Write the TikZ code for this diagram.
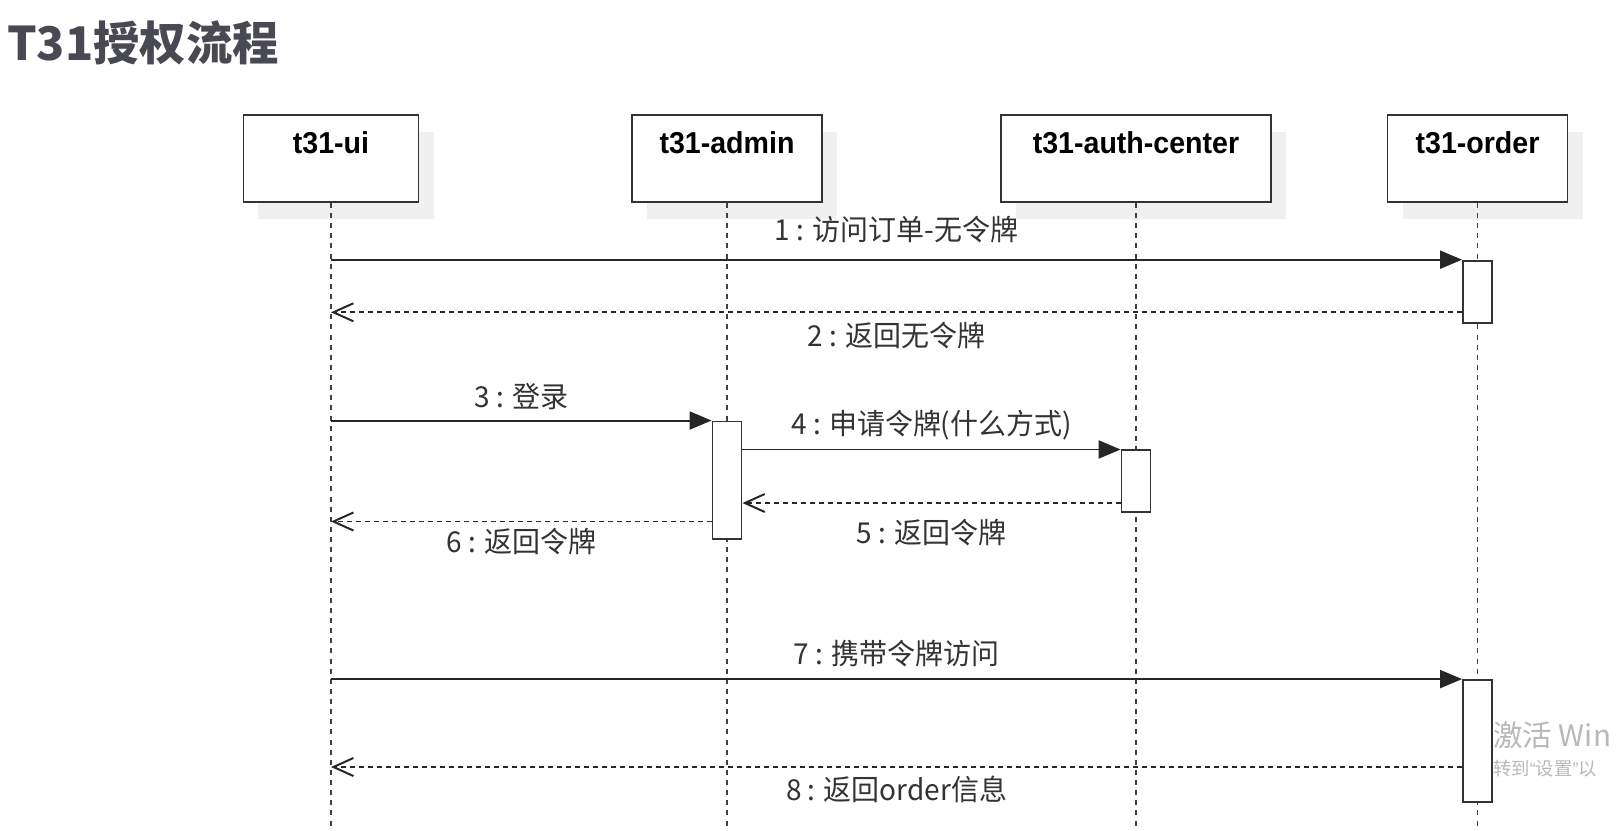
\documentclass[tikz,border=0pt]{standalone}
\usepackage{fontspec}
\setmainfont{Liberation Sans}[FakeStretch=0.945]
\newfontfamily\cjk{Noto Sans CJK SC}[FakeStretch=0.97]
\newfontfamily\titlefont{Noto Sans CJK SC}
\newfontfamily\quotefont{Liberation Sans}
\usetikzlibrary{arrows.meta,shadows}
\definecolor{titlegray}{RGB}{73,73,84}

\begin{document}
\begin{tikzpicture}[x=0.025cm, y=-0.025cm,
  lane/.style={draw=black!80, line width=1.3pt, fill=white, inner sep=0pt,
    text height=0.94cm, text depth=1.225cm, font=\fontsize{21.5}{24}\selectfont\bfseries,
    drop shadow={shadow xshift=0.375cm, shadow yshift=-0.42cm, fill=black!6, opacity=1}},
  act/.style={draw=black!80, line width=1.3pt, fill=white, minimum width=0.725cm, inner sep=0pt},
  lifeline/.style={black!75, line width=1.2pt, dash pattern=on 3.6pt off 3.6pt},
  call/.style={black!85, line width=1.4pt, -{Triangle[length=0.55cm, width=0.45cm]}},
  reply/.style={black!85, line width=1.4pt, dash pattern=on 3.6pt off 2.8pt,
    -{Straight Barb[length=0.5cm, width=0.45cm]}},
  msg/.style={midway, font=\cjk\fontsize{20.5}{23}\selectfont, text=black!80}
]

% Background
\fill[white] (0,0) rectangle (1616,830);
\useasboundingbox (0,0) rectangle (1616,830);

% === TITLE ===
\node[font=\titlefont\bfseries\fontsize{33}{38}\selectfont, text=titlegray, anchor=base west, inner sep=0pt]
  (title) at (7,60) {T31授权流程};

% === PARTICIPANTS ===
\node[lane, minimum width=4.375cm] (ui) at (331,158.7) {t31-ui};
\node[lane, minimum width=4.75cm] (admin) at (727,158.7) {t31-admin};
\node[lane, minimum width=6.75cm] (auth) at (1136,158.7) {t31-auth-center};
\node[lane, minimum width=4.5cm] (order) at (1477.5,158.7) {t31-order};

\coordinate (bottom) at (0,830);
\foreach \p in {ui,admin,auth,order}
  \draw[lifeline] (\p.south) -- (\p.south |- bottom);

% === ACTIVATIONS ===
\node[act, minimum height=1.55cm] (ord1) at (order |- 0,291.6) {};
\node[act, minimum height=2.94cm] (adm1) at (admin |- 0,480.25) {};
\node[act, minimum height=1.54cm] (ath1) at (auth |- 0,481.2) {};
\node[act, minimum height=3.05cm] (ord2) at (order |- 0,741) {};

% === MESSAGES ===
\draw[call] (ui |- ord1.north) -- (ord1.north west)
  node[msg, yshift=0.75cm] {1 : 访问订单-无令牌};
\draw[reply] (ord1.west |- 0,312.3) -- (ui |- 0,312.3)
  node[msg, yshift=-0.575cm] {2 : 返回无令牌};
\draw[call] (ui |- adm1.north) -- (adm1.north west)
  node[msg, yshift=0.59cm] {3 : 登录};
\draw[call] (adm1.east |- ath1.north) -- (ath1.north west)
  node[msg, yshift=0.62cm] {4 : 申请令牌(什么方式)};
\draw[reply] (ath1.west |- 0,503) -- (adm1.east |- 0,503)
  node[msg, yshift=-0.75cm] {5 : 返回令牌};
\draw[reply] (adm1.west |- 0,521.5) -- (ui |- 0,521.5)
  node[msg, yshift=-0.49cm] {6 : 返回令牌};
\draw[call] (ui |- ord2.north) -- (ord2.north west)
  node[msg, yshift=0.64cm] {7 : 携带令牌访问};
\draw[reply] (ord2.west |- 0,767) -- (ui |- 0,767)
  node[msg, yshift=-0.56cm] {8 : 返回order信息};

% watermark
\node[font=\titlefont\fontsize{21}{24}\selectfont, text=black!28, anchor=west, inner sep=0pt]
  (wm1) at (1493,735) {激活 Win};
\node[font=\titlefont\fontsize{13}{15}\selectfont, text=black!28, anchor=west, inner sep=0pt]
  (wm2) at (1493,769) {转到{\quotefont“}设置{\quotefont”}以};

\end{tikzpicture}
\end{document}
